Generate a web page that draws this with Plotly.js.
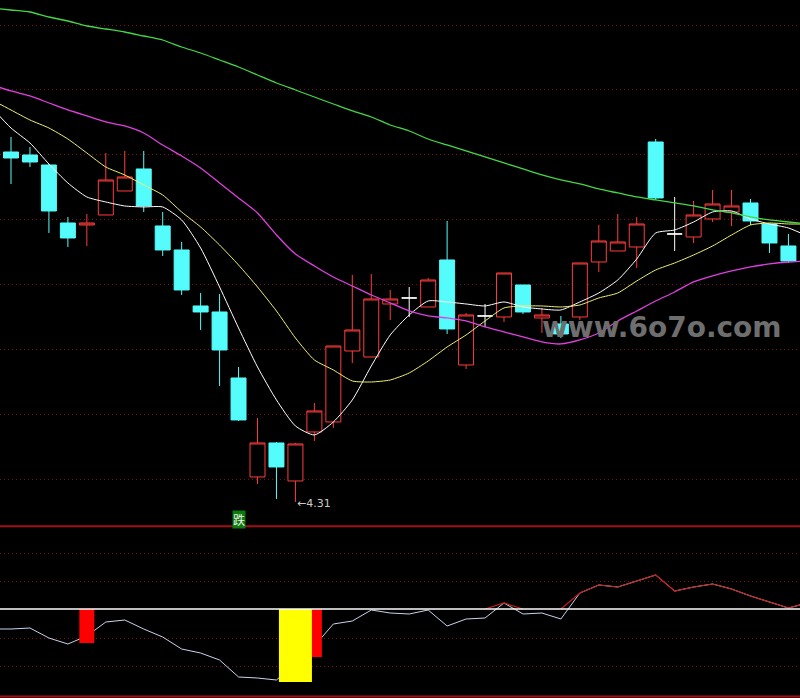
<!DOCTYPE html>
<html>
<head>
<meta charset="utf-8">
<script src="https://cdn.plot.ly/plotly-3.0.1.min.js"></script>
<style>
  html, body { margin: 0; padding: 0; background: #000; }
  #plot { width: 800px; height: 698px; }
</style>
</head>
<body>
<div id="plot"></div>
<script>
// daily bars, oldest first
const open  = [6.06, 6.045, 5.995, 5.705, 5.695, 5.745, 5.865, 5.975, 5.69, 5.57, 5.29, 5.26, 4.93, 4.435, 4.605, 4.415, 4.66, 4.71, 5.065, 5.035, 5.30, 5.33, 5.285, 5.52, 4.995, 5.24, 5.235, 5.395, 5.23, 5.20, 5.235, 5.51, 5.565, 5.585, 6.11, 5.65, 5.635, 5.725, 5.76, 5.805, 5.70, 5.59];
const high  = [6.135, 6.085, 6.00, 5.735, 5.75, 6.055, 6.065, 6.065, 5.76, 5.61, 5.355, 5.35, 4.985, 4.73, 4.61, 4.605, 4.805, 5.09, 5.445, 5.45, 5.37, 5.385, 5.43, 5.715, 5.255, 5.30, 5.455, 5.395, 5.28, 5.24, 5.505, 5.695, 5.75, 5.735, 6.125, 5.835, 5.815, 5.87, 5.87, 5.825, 5.70, 5.65];
const low   = [5.90, 5.985, 5.655, 5.585, 5.59, 5.745, 5.865, 5.76, 5.54, 5.345, 5.17, 4.89, 4.715, 4.40, 4.325, 4.31, 4.615, 4.68, 5.005, 5.035, 5.22, 5.235, 5.285, 5.15, 4.975, 5.185, 5.21, 5.25, 5.155, 5.13, 5.22, 5.46, 5.565, 5.48, 5.82, 5.565, 5.605, 5.71, 5.69, 5.695, 5.555, 5.505];
const close = [6.03, 6.01, 5.765, 5.63, 5.705, 5.92, 5.935, 5.79, 5.57, 5.37, 5.26, 5.07, 4.72, 4.605, 4.485, 4.60, 4.765, 5.09, 5.17, 5.325, 5.325, 5.33, 5.42, 5.175, 5.245, 5.24, 5.455, 5.26, 5.245, 5.15, 5.505, 5.615, 5.61, 5.70, 5.83, 5.65, 5.745, 5.80, 5.79, 5.715, 5.605, 5.515];

// moving averages, one bar before the first candle to one after the last
const ma5  = [6.28, 6.18, 6.105, 6.00, 5.905, 5.835, 5.81, 5.79, 5.785, 5.785, 5.72, 5.58, 5.385, 5.18, 4.985, 4.82, 4.69, 4.645, 4.71, 4.82, 4.99, 5.145, 5.245, 5.315, 5.31, 5.30, 5.29, 5.31, 5.285, 5.275, 5.27, 5.31, 5.355, 5.42, 5.525, 5.655, 5.67, 5.71, 5.76, 5.765, 5.725, 5.70, 5.68, 5.64];
const ma10 = [6.32, 6.27, 6.22, 6.18, 6.125, 6.055, 5.985, 5.945, 5.895, 5.845, 5.76, 5.685, 5.595, 5.495, 5.385, 5.265, 5.13, 5.02, 4.97, 4.915, 4.91, 4.92, 4.955, 5.015, 5.085, 5.145, 5.215, 5.28, 5.29, 5.29, 5.285, 5.295, 5.33, 5.355, 5.415, 5.47, 5.505, 5.545, 5.59, 5.645, 5.695, 5.705, 5.70, 5.70];
const ma20 = [6.395, 6.365, 6.34, 6.305, 6.27, 6.24, 6.21, 6.19, 6.155, 6.095, 6.04, 5.98, 5.905, 5.83, 5.755, 5.645, 5.55, 5.49, 5.435, 5.39, 5.345, 5.305, 5.265, 5.24, 5.23, 5.215, 5.185, 5.16, 5.135, 5.11, 5.10, 5.12, 5.155, 5.215, 5.265, 5.315, 5.36, 5.41, 5.44, 5.465, 5.485, 5.50, 5.51, 5.515];
const ma60 = [6.78, 6.77, 6.76, 6.735, 6.715, 6.69, 6.675, 6.66, 6.64, 6.62, 6.585, 6.555, 6.52, 6.485, 6.445, 6.405, 6.37, 6.335, 6.30, 6.265, 6.235, 6.195, 6.165, 6.125, 6.095, 6.065, 6.035, 6.005, 5.975, 5.945, 5.92, 5.90, 5.875, 5.855, 5.835, 5.82, 5.805, 5.79, 5.77, 5.755, 5.735, 5.72, 5.71, 5.70];

// lower indicator, same span as the averages
const osc = [-20, -20, -19, -29, -35, -27, -13, -11, -20, -28, -40, -44, -51, -68, -69, -71, -55, -37, -15, -12, -1, -4, -5, -1, -17, -10, -9, 6, -5, -4, -10, 16, 24, 22, 28, 34, 18, 22, 25, 20, 13, 7, 1, 6];

const redBarDay = [4, 16];
const redBarVal = [-34, -48];
const yellowBarDay = [15];
const yellowBarVal = [-73];

const lowMark = 4.31;
const lowDay = 15;
const signalDay = 12;

const days = open.map((v, i) => i);
const lineX = osc.map((v, i) => i - 1);

const upDays = days.filter(i => close[i] > open[i]);
const downDays = days.filter(i => close[i] < open[i]);
const flatDays = days.filter(i => close[i] === open[i]);

function candles(ids, color, fill) {
  return {
    type: "candlestick",
    x: ids,
    open: ids.map(i => open[i]),
    high: ids.map(i => high[i]),
    low: ids.map(i => low[i]),
    close: ids.map(i => close[i]),
    increasing: { line: { color: color, width: 1 }, fillcolor: fill },
    decreasing: { line: { color: color, width: 1 }, fillcolor: fill },
    whiskerwidth: 0,
    hoverinfo: "skip",
    xaxis: "x",
    yaxis: "y",
  };
}

function maLine(vals, color, w) {
  return {
    type: "scatter",
    mode: "lines",
    x: lineX,
    y: vals,
    line: { color: color, width: w, shape: "spline", smoothing: 0.6 },
    hoverinfo: "skip",
    xaxis: "x",
    yaxis: "y",
  };
}

// red part of the indicator: only where it sits above zero
let oscRed = osc.map((v, i) => {
  if (v > 0 || osc[i - 1] > 0 || osc[i + 1] > 0) return Math.max(v, 0);
  return null;
});

var data = [
  candles(upDays, "#ff3c3c", "#000000"),
  candles(downDays, "#54fcfc", "#54fcfc"),
  candles(flatDays, "#ffffff", "#ffffff"),
  maLine(ma5, "#ffffff", 1),
  maLine(ma10, "#f0f070", 1),
  maLine(ma20, "#e040e0", 1.3),
  maLine(ma60, "#44d844", 1.3),
  {
    type: "scatter", mode: "lines", x: lineX, y: osc,
    line: { color: "#c8d4ec", width: 1 }, hoverinfo: "skip",
    xaxis: "x", yaxis: "y2",
  },
  {
    type: "scatter", mode: "lines", x: lineX, y: oscRed,
    line: { color: "#c41e1e", width: 1.2 }, hoverinfo: "skip",
    xaxis: "x", yaxis: "y2",
  },
  {
    type: "bar", x: redBarDay, y: redBarVal, base: 0, width: 0.79,
    marker: { color: "#ff0000", line: { width: 0 } }, hoverinfo: "skip",
    xaxis: "x", yaxis: "y3",
  },
  {
    type: "bar", x: yellowBarDay, y: yellowBarVal, base: 0, width: 1.74,
    marker: { color: "#ffff00", line: { width: 0 } }, hoverinfo: "skip",
    xaxis: "x", yaxis: "y3",
  },
];

const gridColor = "#7a1414";
const sep = (698 - 527) / 698;

var layout = {
  width: 800,
  height: 698,
  margin: { l: 0, r: 0, t: 0, b: 0 },
  paper_bgcolor: "#000000",
  plot_bgcolor: "#000000",
  showlegend: false,
  boxgap: 0.21,
  boxgroupgap: 0,
  barmode: "overlay",
  xaxis: {
    range: [-0.58, 41.61],
    showgrid: false, zeroline: false, showline: false, showticklabels: false,
    ticks: "", rangeslider: { visible: false }, fixedrange: true, anchor: "y2",
  },
  yaxis: {
    domain: [sep + 0.0015, 1],
    range: [4.19, 6.82],
    tickvals: [6.695, 6.37, 6.045, 5.72, 5.395, 5.07, 4.745, 4.42],
    showticklabels: false, ticks: "",
    showgrid: true, gridcolor: gridColor, gridwidth: 1, griddash: "1px,3px",
    zeroline: false, showline: false, fixedrange: true,
  },
  yaxis2: {
    domain: [0, sep],
    range: [-89, 82],
    tickvals: [56, 28, -29, -57],
    showticklabels: false, ticks: "",
    showgrid: true, gridcolor: gridColor, gridwidth: 1, griddash: "1px,3px",
    zeroline: false, showline: false, fixedrange: true,
  },
  yaxis3: {
    overlaying: "y2",
    range: [-89, 82],
    showgrid: false, zeroline: false, showline: false, showticklabels: false,
    ticks: "", fixedrange: true,
  },
  shapes: [
    { type: "line", xref: "paper", yref: "paper", x0: 0, x1: 1, y0: sep + 0.001, y1: sep + 0.001,
      line: { color: "#a01010", width: 2 }, layer: "above" },
    { type: "line", xref: "paper", yref: "paper", x0: 0, x1: 1, y0: 0.002, y1: 0.002,
      line: { color: "#a01010", width: 2 }, layer: "above" },
    { type: "line", xref: "paper", yref: "y2", x0: 0, x1: 1, y0: 0, y1: 0,
      line: { color: "#ffffff", width: 1.5 }, layer: "above" },
  ],
  annotations: [
    {
      x: lowDay, y: lowMark, xref: "x", yref: "y",
      text: "←" + lowMark.toFixed(2), showarrow: false,
      xanchor: "left", yanchor: "middle", yshift: -2,
      font: { family: "DejaVu Sans", size: 11, color: "#c8c8c8" },
    },
    {
      x: signalDay, y: 4.2225, xref: "x", yref: "y",
      text: "跌", showarrow: false,
      xanchor: "center", yanchor: "middle",
      bgcolor: "#0c7a0c", borderpad: 0,
      font: { family: "Noto Sans CJK SC", size: 12, color: "#f0f0f0" },
    },
    {
      x: 0.827, y: 0.5315, xref: "paper", yref: "paper",
      text: "www.6o7o.com", showarrow: false,
      xanchor: "center", yanchor: "middle",
      font: { family: "DejaVu Sans", size: 28, color: "#6e6e6e", weight: "bold" },
    },
  ],
};

Plotly.newPlot("plot", data, layout, { displayModeBar: false, staticPlot: true });
</script>
</body>
</html>
